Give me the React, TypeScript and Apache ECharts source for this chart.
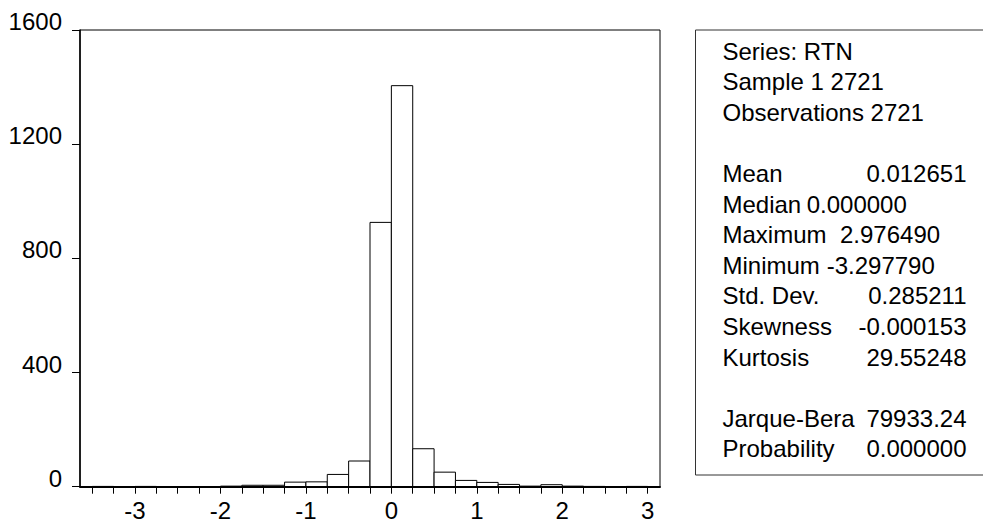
import React, { useEffect, useRef } from "react";
import * as echarts from "echarts";

// Histogram bins (start, end) and frequencies
const binStarts = [-3.5, -3.25, -3.0, -2.75, -2.5, -2.25, -2.0, -1.75, -1.5, -1.25, -1.0, -0.75, -0.5, -0.25, 0.0, 0.25, 0.5, 0.75, 1.0, 1.25, 1.5, 1.75, 2.0, 2.25, 2.5, 2.75];
const binEnds = [-3.25, -3.0, -2.75, -2.5, -2.25, -2.0, -1.75, -1.5, -1.25, -1.0, -0.75, -0.5, -0.25, 0.0, 0.25, 0.5, 0.75, 1.0, 1.25, 1.5, 1.75, 2.0, 2.25, 2.5, 2.75, 3.0];
const counts = [1, 0, 1, 0, 0, 0, 2, 5, 5, 16, 17, 43, 90, 926, 1405, 133, 51, 22, 15, 8, 2, 7, 2, 1, 0, 1];

const xMin = -3.644;
const xMax = 3.144;
const xTickValues = [-3.5, -3.25, -3.0, -2.75, -2.5, -2.25, -2.0, -1.75, -1.5, -1.25, -1.0, -0.75, -0.5, -0.25, 0.0, 0.25, 0.5, 0.75, 1.0, 1.25, 1.5, 1.75, 2.0, 2.25, 2.5, 2.75, 3.0];
const xLabelValues = [-3, -2, -1, 0, 1, 2, 3];
const yMax = 1600;
const yInterval = 400;

// Statistics panel
const statRows = [
  { label: "Series: RTN", value: "", row: 0 },
  { label: "Sample 1 2721", value: "", row: 1 },
  { label: "Observations 2721", value: "", row: 2 },
  { label: "Mean", value: "0.012651", row: 4 },
  { label: "Median", value: "0.000000", row: 5, inline: 806.7 },
  { label: "Maximum", value: "2.976490", row: 6, inline: 840 },
  { label: "Minimum", value: "-3.297790", row: 7, inline: 826.7 },
  { label: "Std. Dev.", value: "0.285211", row: 8 },
  { label: "Skewness", value: "-0.000153", row: 9 },
  { label: "Kurtosis", value: "29.55248", row: 10 },
  { label: "Jarque-Bera", value: "79933.24", row: 12 },
  { label: "Probability", value: "0.000000", row: 13 },
];

const FONT = "'Liberation Sans', Arial, Helvetica, sans-serif";
const FS = 24;

export default function App() {
  const ref = useRef<HTMLDivElement>(null);

  useEffect(() => {
    if (!ref.current) return;
    const chart = echarts.init(ref.current, undefined, { renderer: "svg" });

    const data = binStarts.map((s, i) => [s, binEnds[i], counts[i]]);

    const graphics: any[] = [
      {
        type: "rect",
        shape: { x: 695.5, y: 30, width: 320, height: 445 },
        style: { fill: "#fff", stroke: "#333", lineWidth: 1 },
        z: 1,
      },
    ];
    const rowY = (r: number) => 51 + 30.6 * r;
    statRows.forEach((s) => {
      graphics.push({
        type: "text",
        x: 722.5,
        y: rowY(s.row),
        z: 2,
        style: {
          text: s.label,
          font: `${FS}px ${FONT}`,
          fill: "#000",
          textAlign: "left",
          textVerticalAlign: "middle",
        },
      });
      if (s.value) {
        graphics.push({
          type: "text",
          x: s.inline ? s.inline : 966.5,
          y: rowY(s.row),
          z: 2,
          style: {
            text: s.value,
            font: `${FS}px ${FONT}`,
            fill: "#000",
            textAlign: s.inline ? "left" : "right",
            textVerticalAlign: "middle",
          },
        });
      }
    });

    chart.setOption({
      animation: false,
      backgroundColor: "#fff",
      grid: {
        left: 80,
        top: 30,
        right: 323,
        bottom: 36.3,
        show: true,
        borderColor: "#000",
        borderWidth: 1,
        backgroundColor: "transparent",
      },
      xAxis: {
        type: "value",
        min: xMin,
        max: xMax,
        z: 10,
        splitLine: { show: false },
        axisLine: { show: true, onZero: false, lineStyle: { color: "#000", width: 2 } },
        axisTick: {
          show: true,
          length: 7,
          inside: false,
          customValues: xTickValues,
          lineStyle: { color: "#000", width: 1 },
        },
        axisLabel: {
          customValues: xLabelValues,
          margin: 12,
          color: "#000",
          fontFamily: FONT,
          fontSize: FS,
        },
      },
      yAxis: {
        type: "value",
        min: 0,
        max: yMax,
        interval: yInterval,
        z: 10,
        splitLine: { show: false },
        axisLine: { show: true, onZero: false, lineStyle: { color: "#000", width: 1.5 } },
        axisTick: {
          show: true,
          length: 8,
          inside: false,
          lineStyle: { color: "#000", width: 1 },
        },
        axisLabel: {
          margin: 18,
          color: "#000",
          fontFamily: FONT,
          fontSize: FS,
          verticalAlign: "bottom",
          lineHeight: 17,
          formatter: (v: number) => String(v),
        },
      },
      series: [
        {
          type: "custom",
          data,
          z: 2,
          renderItem: (params: any, api: any) => {
            const x0 = api.value(0);
            const x1 = api.value(1);
            const c = api.value(2);
            const p0 = api.coord([x0, c]);
            const p1 = api.coord([x1, 0]);
            return {
              type: "rect",
              shape: {
                x: p0[0],
                y: p0[1],
                width: p1[0] - p0[0],
                height: p1[1] - p0[1],
              },
              style: { fill: "#fff", stroke: "#000", lineWidth: 1 },
            };
          },
        },
      ],
      graphic: graphics,
    });

    return () => chart.dispose();
  }, []);

  return (
    <div
      ref={ref}
      style={{ position: "absolute", left: 0, top: 0, width: 983, height: 523 }}
    />
  );
}
